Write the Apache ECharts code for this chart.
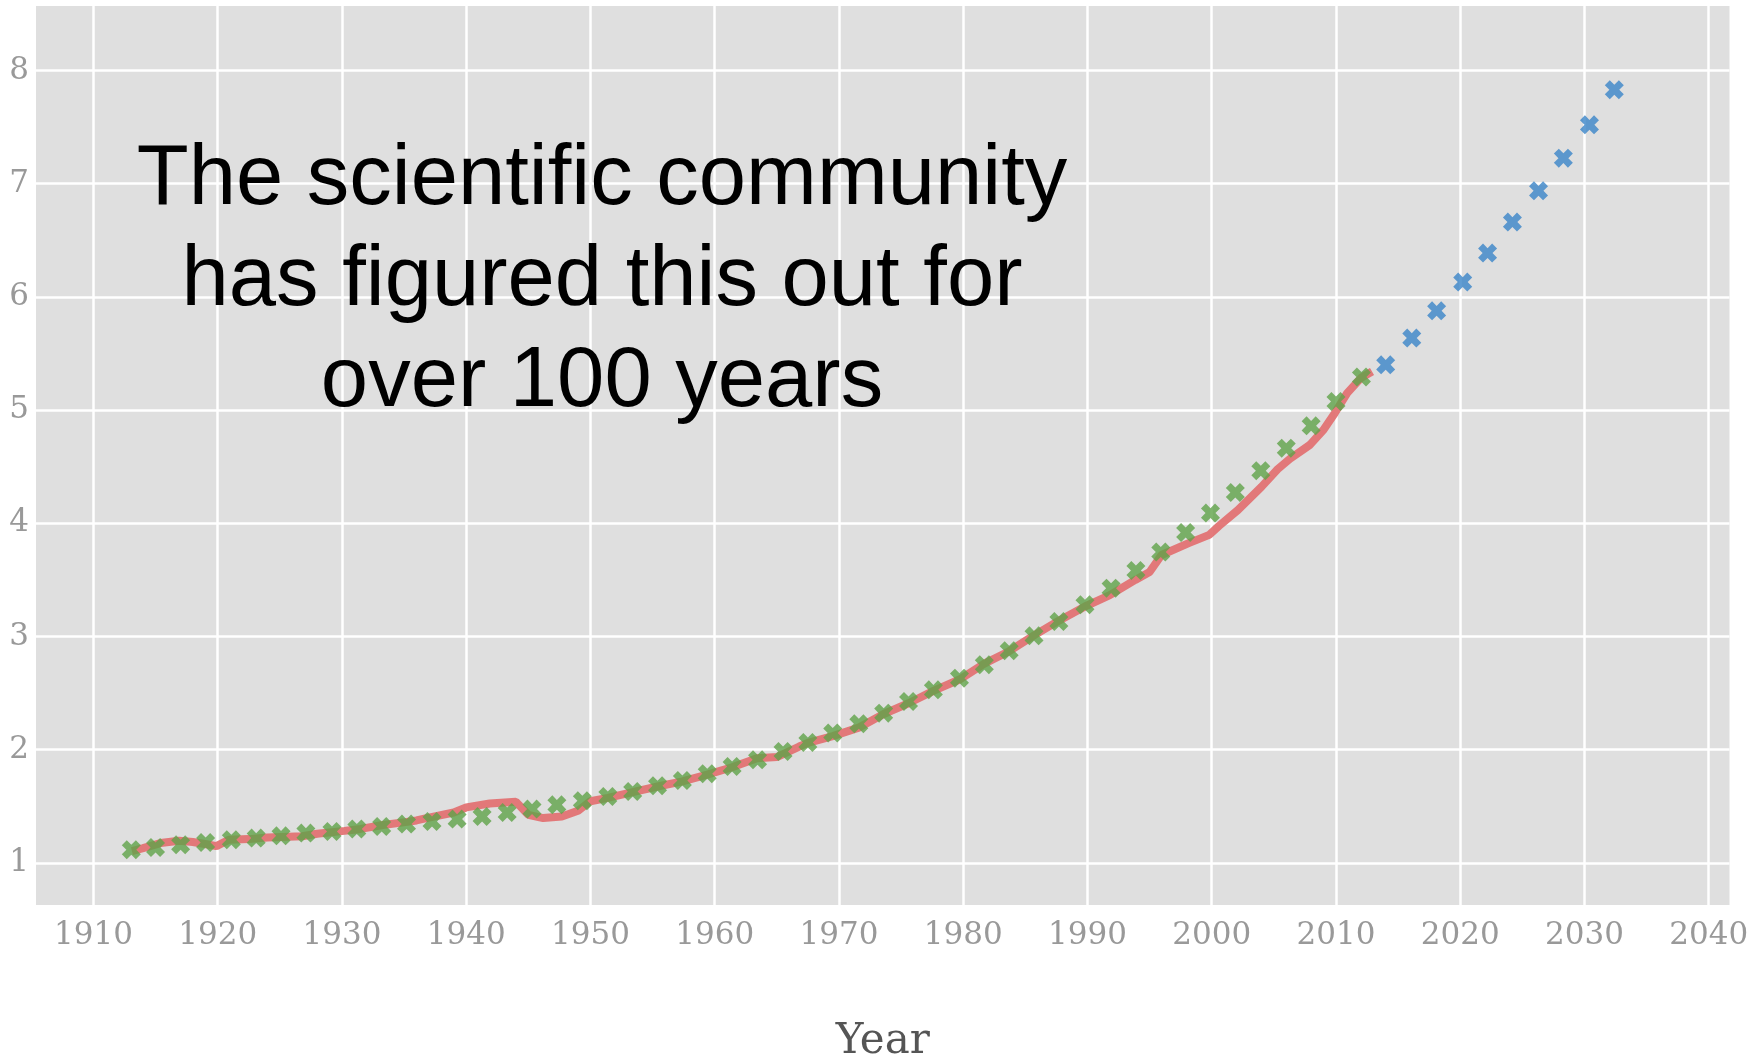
<!DOCTYPE html>
<html><head><meta charset="utf-8">
<script src="https://cdn.jsdelivr.net/npm/echarts@6/dist/echarts.min.js"></script>
<style>html,body{margin:0;padding:0;background:#fff}#c{width:1751px;height:1061px}</style>
</head><body><div id="c"></div>
<script>
// ---- data ----
const xTicks = [1910,1920,1930,1940,1950,1960,1970,1980,1990,2000,2010,2020,2030,2040];
const yTicks = [1,2,3,4,5,6,7,8];

const redYears = [1913.1,1914.0,1915.4,1916.9,1918.0,1919.1,1919.9,1920.9,1922.5,1924.0,1926.8,1928.0,1930.2,1931.5,1933.3,1935.1,1936.0,1937.0,1939.0,1940.0,1941.9,1944.0,1945.0,1946.2,1947.7,1949.0,1950.0,1951.4,1953.4,1955.4,1957.4,1959.4,1961.4,1963.4,1965.0,1966.8,1967.5,1969.5,1971.6,1973.6,1975.6,1977.6,1979.7,1981.7,1983.7,1985.7,1987.7,1989.8,1991.8,1993.85,1995.0,1995.96,1998.1,1999.8,2000.6,2002.1,2004.0,2005.3,2006.3,2007.9,2009.0,2009.9,2010.9,2012.0,2012.9];
const redValues = [1.105,1.13,1.175,1.195,1.185,1.165,1.148,1.205,1.21,1.225,1.235,1.258,1.283,1.30,1.335,1.36,1.375,1.40,1.445,1.49,1.525,1.54,1.425,1.396,1.41,1.46,1.545,1.575,1.625,1.675,1.72,1.78,1.845,1.925,1.935,2.028,2.06,2.12,2.195,2.315,2.41,2.52,2.62,2.76,2.87,3.01,3.14,3.265,3.365,3.50,3.57,3.72,3.823,3.898,3.978,4.116,4.322,4.477,4.57,4.693,4.826,4.973,5.150,5.283,5.341];

const greenYears = [1913.05,1915.0,1917.02,1919.03,1921.1,1923.1,1925.1,1927.1,1929.2,1931.2,1933.2,1935.2,1937.25,1939.27,1941.28,1943.3,1945.3,1947.3,1949.35,1951.4,1953.4,1955.4,1957.4,1959.4,1961.4,1963.45,1965.5,1967.5,1969.5,1971.6,1973.6,1975.6,1977.6,1979.7,1981.7,1983.7,1985.7,1987.7,1989.8,1991.9,1993.9,1995.9,1997.9,1999.9,2001.9,2003.95,2006.0,2008.0,2010.0,2012.05];
const greenValues = [1.116,1.136,1.160,1.180,1.204,1.219,1.239,1.263,1.277,1.299,1.322,1.343,1.366,1.387,1.410,1.445,1.475,1.513,1.549,1.587,1.631,1.681,1.728,1.787,1.852,1.911,1.984,2.064,2.147,2.229,2.323,2.426,2.529,2.632,2.750,2.874,3.006,3.133,3.280,3.427,3.583,3.746,3.919,4.090,4.272,4.464,4.664,4.861,5.076,5.292];

const blueYears = [2014.0,2016.1,2018.1,2020.2,2022.2,2024.2,2026.3,2028.3,2030.4,2032.4];
const blueValues = [5.400,5.636,5.877,6.131,6.387,6.661,6.937,7.226,7.520,7.830];

const noteLines = ['The scientific community','has figured this out for','over 100 years'];
const xTitle = 'Year';

// ---- chart ----
function pairs(xs, ys){ return xs.map((x,i)=>[x, ys[i]]); }
const XMARK = 'path://M2.6,0L5,2.4L7.4,0L10,2.6L7.6,5L10,7.4L7.4,10L5,7.6L2.6,10L0,7.4L2.4,5L0,2.6Z';
const chart = echarts.init(document.getElementById('c'), null, {renderer:'canvas'});
const tickFont = {color:'#999999', fontFamily:'DejaVu Serif', fontSize:31, formatter:(v)=>String(Math.round(v))};
const option = {
  animation:false,
  grid:{left:36, right:21.5, top:6, bottom:156, show:true, backgroundColor:'#dfdfdf', borderWidth:0,
        containLabel:false, outerBoundsMode:'none'},
  xAxis:{type:'value', min:1905.38, max:2041.67,
    axisLine:{show:false}, axisTick:{show:false, customValues:xTicks},
    axisLabel:Object.assign({customValues:xTicks, margin:15}, tickFont),
    splitLine:{show:true, lineStyle:{color:'#ffffff', width:2.5}},
    name:xTitle, nameLocation:'middle', nameGap:116,
    nameTextStyle:{color:'#555555', fontFamily:'DejaVu Serif', fontSize:42}},
  yAxis:{type:'value', min:0.628, max:8.57,
    axisLine:{show:false}, axisTick:{show:false, customValues:yTicks},
    axisLabel:Object.assign({customValues:yTicks, margin:7}, tickFont),
    splitLine:{show:true, lineStyle:{color:'#ffffff', width:2.5}}},
  series:[
    {type:'line', data:pairs(redYears, redValues), showSymbol:false, symbol:'none', z:2,
     lineStyle:{color:'#e26f70', width:8, opacity:0.92}},
    {type:'scatter', data:pairs(greenYears, greenValues), symbol:XMARK, symbolSize:19, z:3,
     itemStyle:{color:'#5fa348'}},
    {type:'scatter', data:pairs(blueYears, blueValues), symbol:XMARK, symbolSize:19, z:3,
     itemStyle:{color:'#3a84c8'}}
  ],
  graphic: noteLines.map((t,i)=>({type:'text', x:602, y:181 + i*101, z:10,
    style:{text:t, fill:'#000000', fontFamily:'Liberation Sans', fontSize:85,
      align:'center', verticalAlign:'middle', textAlign:'center', textVerticalAlign:'middle'}}))
};
chart.setOption(option);
</script></body></html>
